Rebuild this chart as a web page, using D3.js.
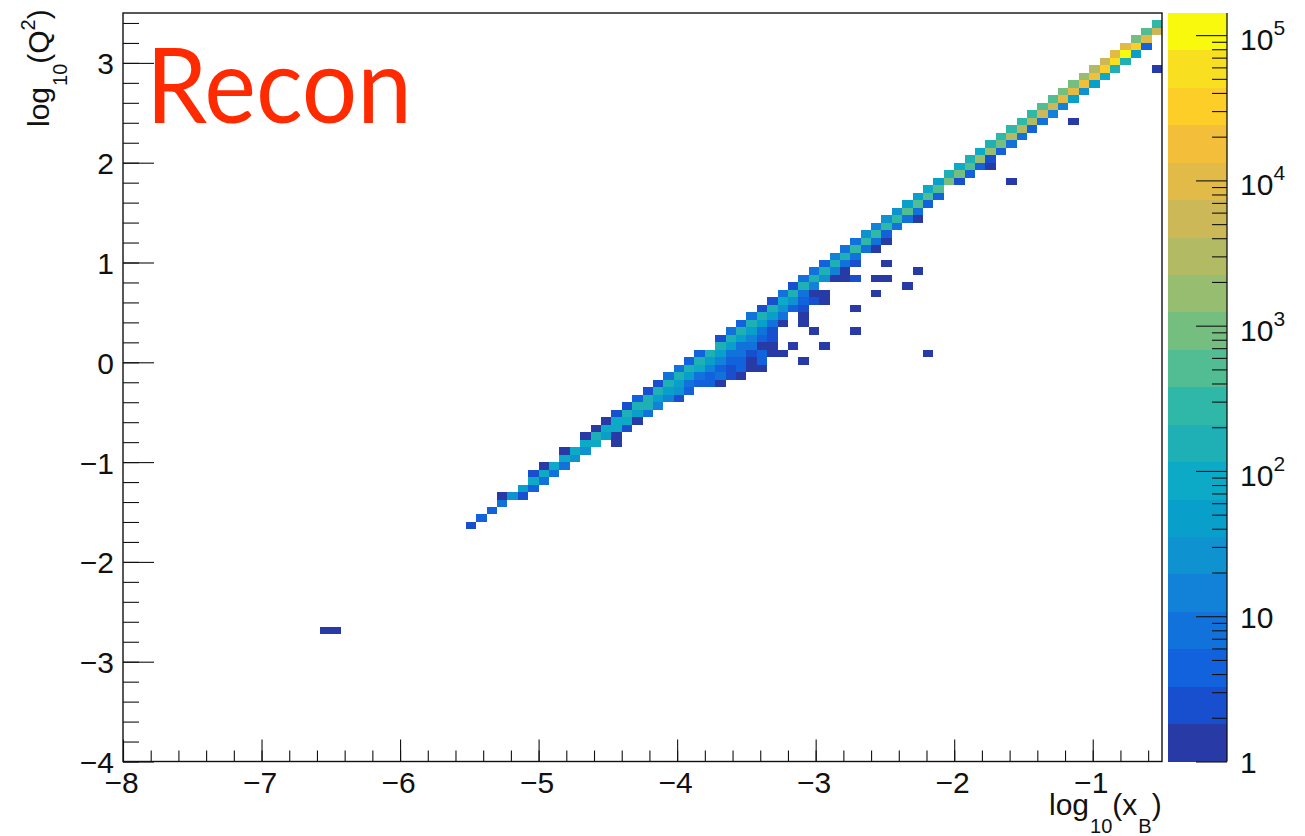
<!doctype html>
<html lang="en">
<head>
<meta charset="utf-8">
<title>Recon</title>
<script src="https://d3js.org/d3.v7.min.js"></script>
<style>
    body { margin: 0; background: #fff; }
    text { font-family: "Liberation Sans", sans-serif; fill: #111; }
    .domain { display: none; }
    .tick line { stroke: #111; stroke-width: 1.1; }
</style>
</head>
<body>
<svg id="chart" width="1305" height="836"></svg>
<script>
// histogram is 100 x 100 bins, each row: y bin, first x bin, counts in consecutive x bins
const binRows = [17,31,32,33,34,35,36,37,38,39,40,41,42,42,43,44,45,46,47,48,49,50,51,52,53,53,54,54,55,55,55,
    56,57,57,57,58,58,59,59,60,60,61,62,62,63,63,64,64,65,65,66,66,67,68,69,70,71,72,73,74,75,76,77,77,78,79,
    80,81,82,83,84,85,85,86,87,88,89,90,91,92,92,93,94,95,96,97,98];
const binStarts = [19,33,34,35,36,36,38,39,39,40,42,42,44,47,44,45,46,47,48,49,50,51,52,53,54,65,55,77,57,64,67,
    57,58,66,70,59,65,60,65,61,70,62,63,72,64,75,65,72,66,76,67,73,68,69,70,71,72,73,74,75,76,77,78,85,79,80,
    81,82,83,84,85,86,91,87,88,89,90,91,92,93,99,94,95,96,97,98,99];
const binCounts = [
    [1,1],[2],[4],[4],[8],[1,27,2],[48,4],[85,8],[2,85,8],[1,85,8],[85,27],[1,85,27],[85,85],[1],
    [1,155,48,1],[1,85,85,2],[1,85,85,1],[2,155,48,8],[2,155,155,15],[4,155,48,15,2],[2,155,48,27,4],
    [2,155,48,8,4,4,1],[8,155,48,8,4,8,2,1],[8,155,85,15,4,2,4,1,1],[4,155,48,15,4,4,1,4],[1],
    [4,155,48,8,8,2,4,1,1],[1],[155,48,8,8,1,1],[1],[1],
    [2,155,48,15,4,2],[8,155,48,8,2],[1],[1],[4,155,48,8,1],[1],[8,155,48,8],[1],[2,155,27,4,2],[1],
    [2,85,27,4,2,1],[8,155,8,1,1],[1],[2,155,15],[1],[8,155,27,1,1,2],[1,1],[8,155,15,1],[1],[4,155,8,2],[1],
    [15,155,8],[8,280,8,1],[8,280,8,1],[27,280,4],[15,280,8],[27,280,8,1],[27,510,8],[48,510,4],[48,510,4],
    [85,510],[48,920,2],[1],[155,920,4],[85,510,4,1],[155,1650,2],[85,1650,4],[155,920,8],[280,3000,8],
    [280,3000,4],[280,3000,8],[1],[280,5500,15],[510,5500,15],[510,10000,48],[920,10000,27],[920,18000,48],
    [1650,18000,85],[3000,32000,155],[1],[5500,58000,155],[10000,105000,48],[10000,32000,4],[920,10000],
    [510,5500],[280]
];
const palette = ["#273AA6","#184FCF","#1262DE","#1272DC","#1282D8","#0E92D0","#08A0CB","#0DAAC8","#1EB0B4","#2FB8A8",
    "#52BD92","#74BE80","#96BD70","#B2BA64","#CDB858","#E2BA48","#F3BF3A","#FDCE28","#F8E020","#F9F90E"];
const xMajor = [-8,-7,-6,-5,-4,-3,-2,-1];
const yMajor = [-4,-3,-2,-1,0,1,2,3];
const zMajor = [1,10,100,1000,10000,100000];
const zMinorSteps = [2,3,4,5,6,7,8,9];
const zMax = 142000;
const binWidth = 0.075;

const left = 123, right = 1162, top_ = 13, bottom = 761.5;
const barLeft = 1168, barRight = 1227;

const svg = d3.select("#chart");
const x = d3.scaleLinear().domain([-8, -0.5]).range([left, right]);
const y = d3.scaleLinear().domain([-4, 3.5]).range([bottom, top_]);
const z = d3.scaleLog().domain([1, zMax]).range([bottom, top_]);
const color = d3.scaleQuantize().domain([0, Math.log10(zMax)]).range(palette);

// cells
const cells = binRows.flatMap((row, i) => binCounts[i].map((c, k) => ({ix: binStarts[i] + k, iy: row, c: c})));
svg.append("g").selectAll("rect").data(cells).join("rect")
    .attr("x", d => x(-8 + d.ix * binWidth))
    .attr("y", d => y(-4 + (d.iy + 1) * binWidth))
    .attr("width", x(binWidth) - x(0))
    .attr("height", y(0) - y(binWidth))
    .attr("fill", d => color(Math.log10(d.c)))
    .attr("shape-rendering", "crispEdges");

// axes, ticks point inwards
function range02(lo, hi) {
    return d3.range(Math.round((hi - lo) / 0.2) + 1).map(i => lo + i * 0.2);
}
const gx = svg.append("g").attr("transform", `translate(0,${bottom})`);
gx.append("g").call(d3.axisBottom(x).tickValues(range02(-8, -0.6)).tickSize(-11).tickFormat(""));
gx.append("g").call(d3.axisBottom(x).tickValues(xMajor).tickSize(-22).tickPadding(10))
    .selectAll("text").attr("font-size", 30).style("font-family", "Liberation Sans").attr("dx", -2);

const gy = svg.append("g").attr("transform", `translate(${left},0)`);
gy.append("g").call(d3.axisLeft(y).tickValues(range02(-4, 3.4)).tickSize(-16).tickFormat(""));
gy.append("g").call(d3.axisLeft(y).tickValues(yMajor).tickSize(-31).tickPadding(9))
    .selectAll("text").attr("font-size", 30).style("font-family", "Liberation Sans").attr("dy", 11);

// frame
svg.append("rect").attr("x", left).attr("y", top_).attr("width", right - left).attr("height", bottom - top_)
    .attr("fill", "none").attr("stroke", "#111").attr("stroke-width", 1.4);

// colour bar
svg.append("g").selectAll("rect").data(palette).join("rect")
    .attr("x", barLeft)
    .attr("width", barRight - barLeft)
    .attr("y", d => z(Math.pow(10, color.invertExtent(d)[1])))
    .attr("height", d => z(Math.pow(10, color.invertExtent(d)[0])) - z(Math.pow(10, color.invertExtent(d)[1])))
    .attr("fill", d => d)
    .attr("shape-rendering", "crispEdges");

const zMinor = zMajor.slice(0, -1).flatMap(m => zMinorSteps.map(s => m * s));
const gz = svg.append("g").attr("transform", `translate(${barRight},0)`);
gz.append("g").call(d3.axisLeft(z).tickValues(zMinor).tickSize(15).tickFormat(""));
gz.append("g").call(d3.axisLeft(z).tickValues(zMajor).tickSize(31).tickFormat(""));
svg.append("line").attr("x1", barRight).attr("x2", barRight).attr("y1", top_).attr("y2", bottom)
    .attr("stroke", "#111").attr("stroke-width", 1.3);

zMajor.forEach(v => {
    const t = svg.append("text").attr("x", 1240).attr("y", z(v) + (v < 100 ? 11.5 : 15)).attr("font-size", 30);
    if (v < 100) {
        t.text(v);
    } else {
        t.append("tspan").text("10");
        t.append("tspan").attr("font-size", 21).attr("dy", -15).text(Math.log10(v));
    }
});

// titles
const xTitle = svg.append("text").attr("x", 1049).attr("y", 815).attr("font-size", 30);
xTitle.append("tspan").text("log");
xTitle.append("tspan").attr("font-size", 20).attr("dy", 18).attr("dx", 1).text("10");
xTitle.append("tspan").attr("dy", -18).text("(x");
xTitle.append("tspan").attr("font-size", 20).attr("dy", 18).attr("dx", 1).text("B");
xTitle.append("tspan").attr("dy", -18).text(")");

const yTitle = svg.append("text").attr("transform", "translate(49,127) rotate(-90)").attr("font-size", 30);
yTitle.append("tspan").text("log");
yTitle.append("tspan").attr("font-size", 20).attr("dy", 18).attr("dx", 1).text("10");
yTitle.append("tspan").attr("dy", -18).text("(Q");
yTitle.append("tspan").attr("font-size", 20).attr("dy", -14).text("2");
yTitle.append("tspan").attr("dy", 14).text(")");

// label drawn on the pad
svg.append("text").attr("x", 146).attr("y", 123).attr("font-size", 105)
    .attr("textLength", 266).attr("lengthAdjust", "spacingAndGlyphs")
    .style("font-family", "Lato").style("fill", "#FF2A00").text("Recon");
</script>
</body>
</html>
